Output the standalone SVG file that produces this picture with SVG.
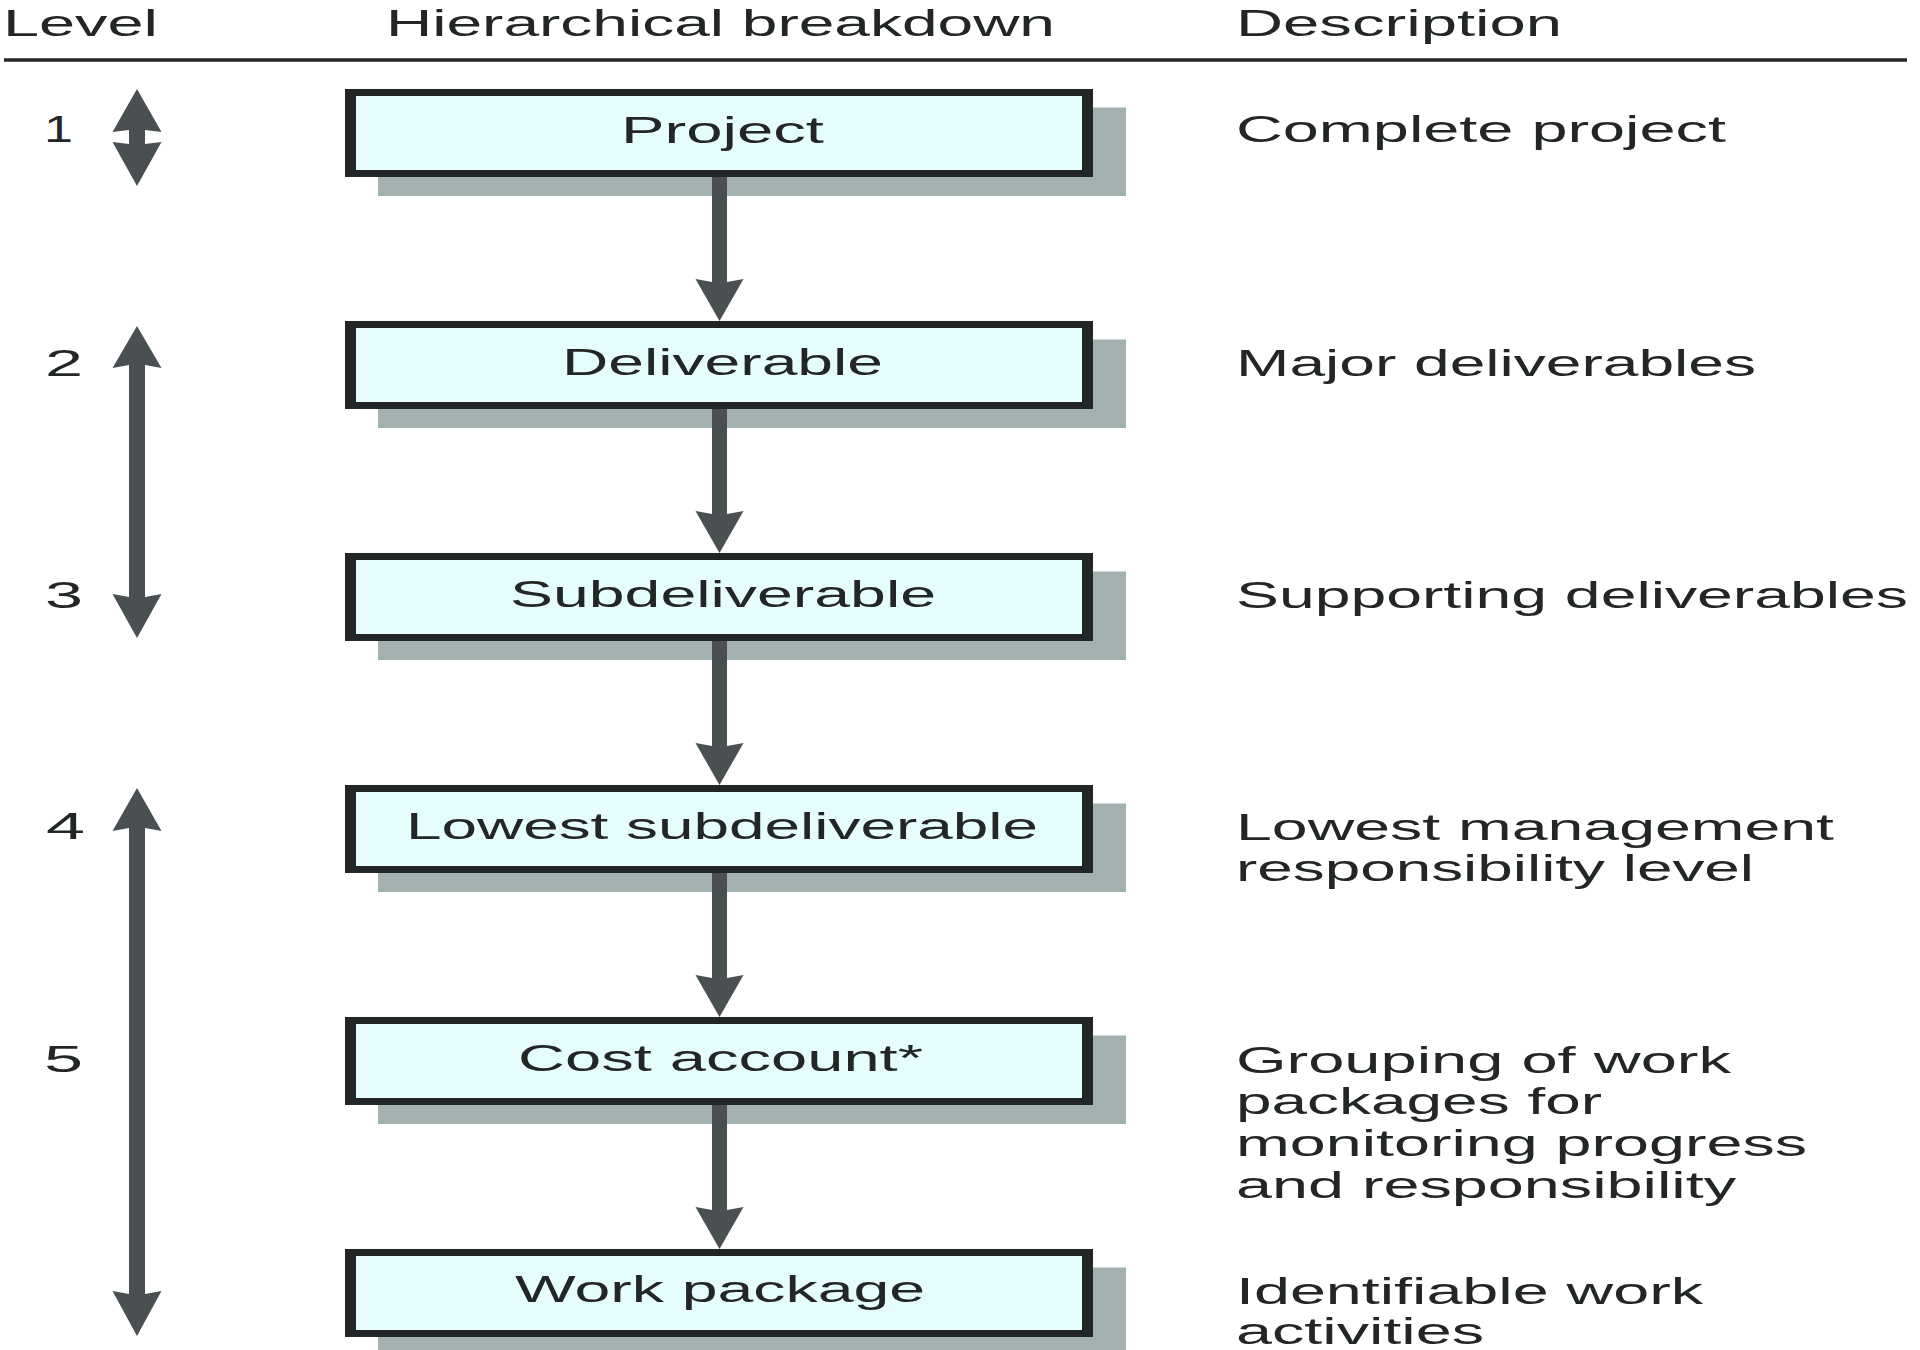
<svg xmlns="http://www.w3.org/2000/svg" width="1920" height="1350" viewBox="0 0 1920 1350">
<style>
text{font-family:"Liberation Sans",Arial,Helvetica,sans-serif;font-size:37.5px;fill:#222626;}
.border{fill:#222626;}
.inner{fill:#e6fdfd;}
.shadow{fill:#a3b1b1;}
.arrow{fill:#4a4f51;}
</style>
<defs>
<g id="box">
<rect class="shadow" x="33" y="18.5" width="748" height="88.5"/>
<rect class="border" x="0" y="0" width="748" height="88"/>
<rect class="inner" x="11" y="7" width="726" height="74"/>
</g>
</defs>
<rect width="1920" height="1350" fill="#ffffff"/>
<g id="header">
<text x="3" y="36" textLength="155" lengthAdjust="spacingAndGlyphs">Level</text>
<text x="386" y="36" textLength="669" lengthAdjust="spacingAndGlyphs">Hierarchical breakdown</text>
<text x="1236" y="36" textLength="326" lengthAdjust="spacingAndGlyphs">Description</text>
<line x1="4" y1="60" x2="1907" y2="60" stroke="#222626" stroke-width="3.4"/>
</g>
<g id="levels">
<text x="44" y="142" textLength="29" lengthAdjust="spacingAndGlyphs">1</text>
<text x="45" y="376" textLength="38" lengthAdjust="spacingAndGlyphs">2</text>
<text x="45" y="608" textLength="38" lengthAdjust="spacingAndGlyphs">3</text>
<text x="46" y="839" textLength="39" lengthAdjust="spacingAndGlyphs">4</text>
<text x="44" y="1072" textLength="39" lengthAdjust="spacingAndGlyphs">5</text>
<path class="arrow" d="M137,89 L161.5,132 L145,130 L145,144 L161.5,142 L137,186 L112.5,142 L129,144 L129,130 L112.5,132 Z"/>
<path class="arrow" d="M137,326 L161.5,368 L145,365 L145,597 L161.5,594 L137,638 L112.5,594 L129,597 L129,365 L112.5,368 Z"/>
<path class="arrow" d="M137,788 L161.5,831 L145,828 L145,1294 L161.5,1291 L137,1336 L112.5,1291 L129,1294 L129,828 L112.5,831 Z"/>
</g>
<g id="node-project">
<use href="#box" x="345" y="89"/>
<text x="621" y="142.5" textLength="203" lengthAdjust="spacingAndGlyphs">Project</text>
</g>
<g id="node-deliverable">
<use href="#box" x="345" y="321"/>
<text x="562" y="374.5" textLength="321" lengthAdjust="spacingAndGlyphs">Deliverable</text>
</g>
<g id="node-subdeliverable">
<use href="#box" x="345" y="553"/>
<text x="510" y="606.5" textLength="426" lengthAdjust="spacingAndGlyphs">Subdeliverable</text>
</g>
<g id="node-lowest">
<use href="#box" x="345" y="785"/>
<text x="406" y="838.5" textLength="632" lengthAdjust="spacingAndGlyphs">Lowest subdeliverable</text>
</g>
<g id="node-cost">
<use href="#box" x="345" y="1017"/>
<text x="518" y="1071" textLength="405" lengthAdjust="spacingAndGlyphs">Cost account*</text>
</g>
<g id="node-work">
<use href="#box" x="345" y="1249"/>
<text x="515" y="1302" textLength="410" lengthAdjust="spacingAndGlyphs">Work package</text>
</g>
<g id="connectors">
<path class="arrow" d="M712,177 L712,282 L695.5,279 L719.5,321 L743.5,279 L727,282 L727,177 Z"/>
<path class="arrow" d="M712,409 L712,514 L695.5,511 L719.5,553 L743.5,511 L727,514 L727,409 Z"/>
<path class="arrow" d="M712,641 L712,746 L695.5,743 L719.5,785 L743.5,743 L727,746 L727,641 Z"/>
<path class="arrow" d="M712,873 L712,978 L695.5,975 L719.5,1017 L743.5,975 L727,978 L727,873 Z"/>
<path class="arrow" d="M712,1105 L712,1210 L695.5,1207 L719.5,1249 L743.5,1207 L727,1210 L727,1105 Z"/>
</g>
<g id="descriptions">
<text x="1236" y="142" textLength="490" lengthAdjust="spacingAndGlyphs">Complete project</text>
<text x="1236" y="376" textLength="520" lengthAdjust="spacingAndGlyphs">Major deliverables</text>
<text x="1236" y="608" textLength="672" lengthAdjust="spacingAndGlyphs">Supporting deliverables</text>
<text x="1236" y="840" textLength="598" lengthAdjust="spacingAndGlyphs">Lowest management</text>
<text x="1236" y="881" textLength="518" lengthAdjust="spacingAndGlyphs">responsibility level</text>
<text x="1236" y="1072.5" textLength="495" lengthAdjust="spacingAndGlyphs">Grouping of work</text>
<text x="1236" y="1113.5" textLength="366" lengthAdjust="spacingAndGlyphs">packages for</text>
<text x="1236" y="1156" textLength="571" lengthAdjust="spacingAndGlyphs">monitoring progress</text>
<text x="1236" y="1198" textLength="500" lengthAdjust="spacingAndGlyphs">and responsibility</text>
<text x="1236" y="1304" textLength="467" lengthAdjust="spacingAndGlyphs">Identifiable work</text>
<text x="1236" y="1344" textLength="248" lengthAdjust="spacingAndGlyphs">activities</text>
</g>
</svg>
